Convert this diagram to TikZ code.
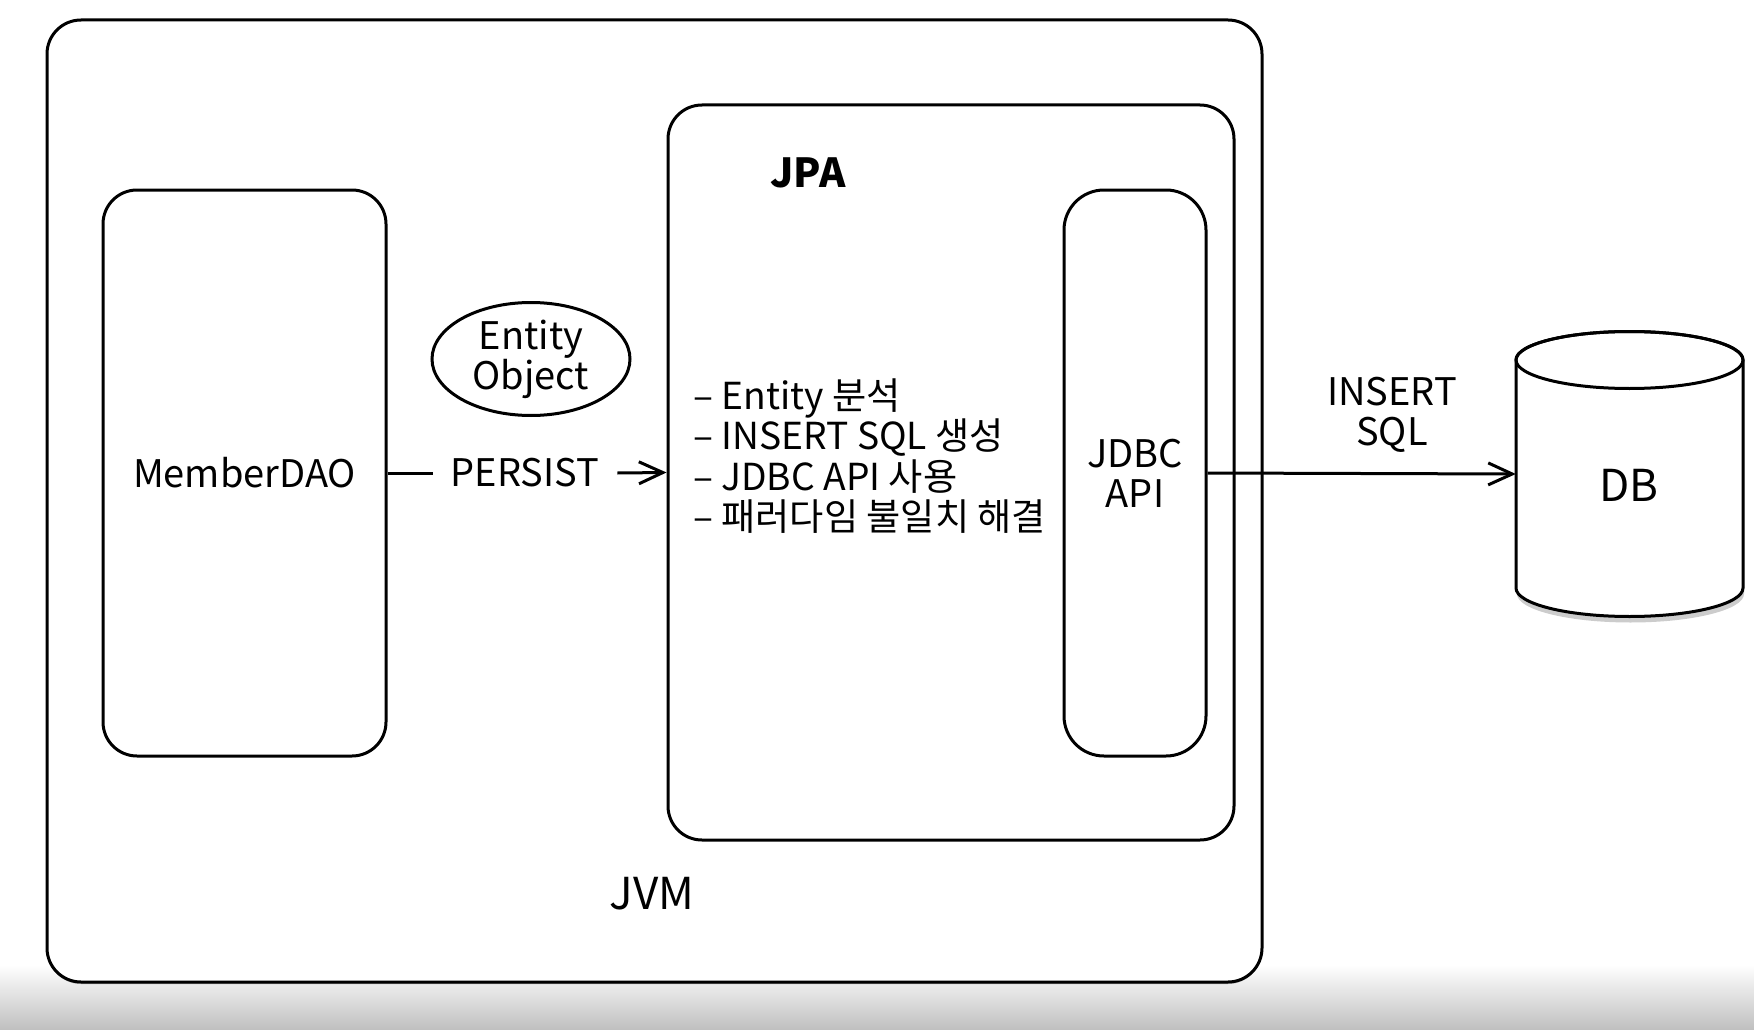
\documentclass[tikz,border=0pt]{standalone}
\usepackage{fontspec}
\setmainfont{Noto Sans CJK KR}
\usetikzlibrary{arrows.meta,shapes.geometric,shadows}
\begin{document}
\begin{tikzpicture}[x=1pt,y=-1pt,
  box/.style={draw, line width=3pt, rounded corners=34pt, fill=white, inner sep=0pt},
  lbl/.style={font=\fontsize{38}{40}\selectfont, align=center, inner sep=0pt},
  lst/.style={font=\fontsize{37.2}{40.5}\selectfont, align=left, inner sep=0pt},
  conn/.style={line width=3pt, -{Straight Barb[length=24pt,width=22pt]}},
  plain/.style={line width=3pt}]
% canvas
\fill[white] (0,0) rectangle (1754,1030);
\useasboundingbox (0,0) rectangle (1754,1030);
\shade[top color=white, bottom color=black!25] (0,965) rectangle (1754,1030);
% JVM
\node[box, minimum width=1215pt, minimum height=962pt,
      drop shadow={shadow xshift=0pt, shadow yshift=-2pt, opacity=.6}] (jvm) at (654.5,501) {};
\node[lbl, font=\fontsize{44}{40}\selectfont] (jvmlbl) at (652,894) {JVM};
% MemberDAO
\node[box, minimum width=283pt, minimum height=566pt, lbl] (mdao) at (244.5,473) {MemberDAO};
% JPA
\node[box, minimum width=566pt, minimum height=735pt] (jpa) at (951,472.5) {};
\node[lbl, font=\fontsize{40}{40}\selectfont\bfseries] (jpalbl) at (808,173) {JPA};
\node[lst, anchor=west] (list) at (693,456) {– Entity 분석\\– INSERT SQL 생성\\– JDBC API 사용\\– 패러다임 불일치 해결};
% JDBC API
\node[box, rounded corners=40pt, minimum width=142pt, minimum height=566pt, lbl] (jdbc) at (1135,473) {JDBC\\API};
% Entity Object
\node[draw, plain, ellipse, minimum width=198pt, minimum height=113pt, lbl] (ent) at (531,359) {Entity\\Object};
% PERSIST
\node[lbl, inner xsep=18pt] (pl) at (525,473) {PERSIST};
\draw[plain] (mdao.east) -- (pl.west);
\draw[conn] (pl.east) -- (jpa.west);
% DB cylinder
\draw[line width=3pt, fill=white, drop shadow={shadow xshift=1pt, shadow yshift=-6pt, opacity=.4}]
  (1516,360) -- (1516,588) arc[start angle=180, end angle=0, x radius=113.5, y radius=28.5]
  -- (1743,360) arc[start angle=0, end angle=-180, x radius=113.5, y radius=28.5] -- cycle;
\draw[line width=3pt] (1629.5,360) ellipse [x radius=113.5, y radius=28.5];
\node[minimum width=227pt, minimum height=286pt, inner sep=0pt] (db) at (1629.5,474) {};
\node[lbl, font=\fontsize{44}{40}\selectfont] (dblbl) at (1629,485) {DB};
% INSERT SQL
\node[lbl] (inslbl) at (1392,415) {INSERT\\SQL};
\draw[conn] (jdbc.east) -- (db.west);
\end{tikzpicture}
\end{document}
